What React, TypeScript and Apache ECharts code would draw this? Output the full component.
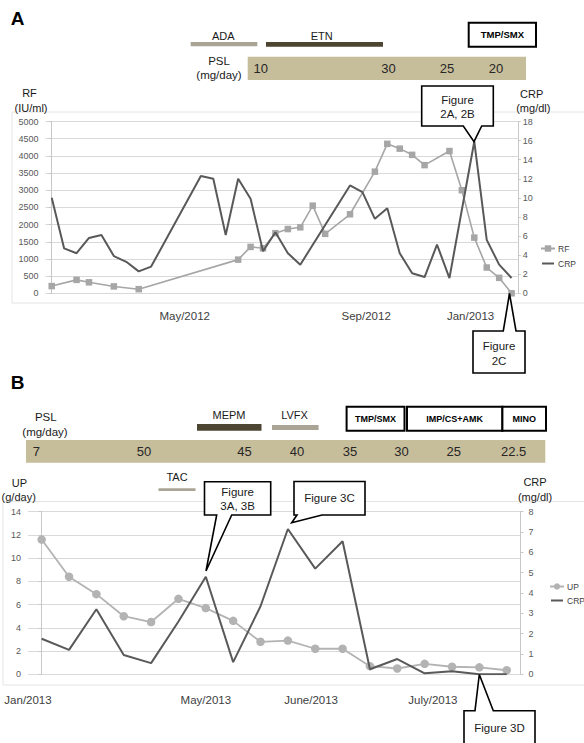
import React, { useEffect, useRef } from 'react';
import * as echarts from 'echarts';

const FONT = "'Liberation Sans', Arial, Helvetica, sans-serif";

// ---------- Panel A data (one entry per measurement date) ----------
const rfA = [210, null, 390, 320, null, 200, null, 120, null, null, null, null, null, null, null,
  980, 1350, 1310, 1750, 1870, 1920, 2550, 1730, null, 2300, null, 3540, 4350, 4210, 4030, 3730,
  null, 4140, 3000, 1620, 750, 450, 0];
const crpA = [10.0, 4.7, 4.2, 5.8, 6.1, 3.9, 3.3, 2.3, 2.8, null, null, null, 12.3, 12.0, 6.1, 12.0,
  9.9, 4.4, 6.4, 4.2, 3.0, null, null, null, 11.3, 10.6, 7.8, 8.9, 4.2, 2.1, 1.7, 5.1, 1.6, null,
  15.9, 5.6, 3.0, 1.6];
const xTickPosA = [10.7, 25.3, 33.7];
const xTickLabelsA = ['May/2012', 'Sep/2012', 'Jan/2013'];
const pslValuesA = ['10', '30', '25', '20'];

// ---------- Panel B data ----------
const upB = [11.6, 8.4, 6.9, 5.0, 4.5, 6.5, 5.7, 4.6, 2.8, 2.9, 2.2, 2.2, 0.7, 0.5, 0.9, 0.65, 0.6, 0.35];
const crpB = [1.75, 1.2, 3.2, 0.95, 0.55, 2.6, 4.8, 0.6, 3.35, 7.15, 5.2, 6.55, 0.25, 0.75, 0.05, 0.15, 0, 0];
const xTickPosB = [-0.5, 6, 9.85, 14.3];
const xTickLabelsB = ['Jan/2013', 'May/2013', 'June/2013', 'July/2013'];
const pslValuesB = ['7', '50', '45', '40', '35', '30', '25', '22.5'];

// ---------- layout ----------
const pslXA = [260.7, 388.5, 447, 496];
const pslXB = [36.4, 144, 244.6, 297, 350, 401.5, 453.8, 513.6];

const TAN = '#c6bd9b';
const DARK_BAR = '#4b4532';
const HATCH = '#a9a496';
const LINE_ICON = 'path://M0,0h0.05v0.05h-0.05z M0,3.8h15v2.4h-15z M0,9.95h0.05v0.05h-0.05z';

const toPairs = (arr: (number | null)[]) =>
  arr.map((v, i) => [i, v]).filter((p) => p[1] !== null);

const labelFor = (pos: number[], labels: string[]) => (v: number) => {
  const k = pos.findIndex((p) => Math.abs(p - v) < 1e-6);
  return k >= 0 ? labels[k] : '';
};

const txt = (x: number, y: number, s: string, size: number, weight = 'normal', fill = '#1a1a1a', align = 'center') => ({
  type: 'text',
  x,
  y,
  z: 50,
  silent: true,
  style: {
    text: s,
    fill,
    font: `${weight} ${size}px ${FONT}`,
    textAlign: align,
    align,
    textVerticalAlign: 'middle',
    verticalAlign: 'middle',
  },
});

const rect = (x: number, y: number, w: number, h: number, style: any, z = 5) => ({
  type: 'rect',
  z,
  silent: true,
  shape: { x, y, width: w, height: h },
  style,
});

const callout = (points: number[][]) => ({
  type: 'polygon',
  z: 40,
  silent: true,
  shape: { points },
  style: { fill: '#ffffff', stroke: '#000000', lineWidth: 1.6, lineJoin: 'miter' },
});

const boxStyle = { fill: '#ffffff', stroke: '#000000', lineWidth: 2 };

const valueAxisLabel = { fontSize: 9, color: '#595959', fontFamily: FONT, formatter: (v: number) => String(v) };

export default function App() {
  const ref = useRef<HTMLDivElement>(null);

  useEffect(() => {
    if (!ref.current) return;
    const chart = echarts.init(ref.current, null, { renderer: 'svg' });

    const graphics: any[] = [
      // frames
      rect(12, 112, 580, 191, { fill: 'none', stroke: '#e4e4e4', lineWidth: 1 }, 0),
      rect(3, 501.5, 590, 183.5, { fill: 'none', stroke: '#e4e4e4', lineWidth: 1 }, 0),

      // ----- Panel A header -----
      txt(17.5, 18.5, 'A', 19, 'bold', '#000'),
      txt(223.3, 36.3, 'ADA', 11),
      rect(190.7, 42, 66.6, 4.3, { fill: HATCH }),
      txt(321.7, 36.3, 'ETN', 11),
      rect(266, 42, 117, 4.7, { fill: DARK_BAR }),
      rect(468.7, 22.7, 67.3, 24, boxStyle),
      txt(502.4, 34.7, 'TMP/SMX', 9.5, 'bold', '#000'),
      txt(219, 61, 'PSL', 11.5),
      txt(219, 75, '(mg/day)', 11.5),
      rect(247.7, 56.7, 278.3, 23.3, { fill: TAN }, 1),
      ...pslValuesA.map((v, i) => txt(pslXA[i], 68.3, v, 13, 'normal', '#262626')),
      txt(29.5, 93.3, 'RF', 11),
      txt(31, 108, '(IU/ml)', 11),
      txt(531.7, 94, 'CRP', 11),
      txt(533.3, 108, '(mg/dl)', 11),

      // callouts A
      callout([[421.7, 86], [493.3, 86], [493.3, 126], [481.7, 126], [474, 141.7], [463.3, 126], [421.7, 126]]),
      txt(457.5, 100, 'Figure', 11.5),
      txt(457.5, 113.5, '2A, 2B', 11.5),
      callout([[473, 331], [503.3, 331], [509.5, 293.5], [516, 331], [525, 331], [525, 373], [473, 373]]),
      txt(499, 346, 'Figure', 11.5),
      txt(499, 361, '2C', 11.5),

      // ----- Panel B header -----
      txt(17.5, 382, 'B', 19, 'bold', '#000'),
      txt(45.8, 417, 'PSL', 11.5),
      txt(45, 431.7, '(mg/day)', 11.5),
      txt(229, 415, 'MEPM', 11),
      rect(197, 424, 64.5, 6.7, { fill: DARK_BAR }),
      txt(294.5, 415, 'LVFX', 11),
      rect(272, 425, 46.6, 5, { fill: HATCH }),
      rect(346.6, 406.7, 57.9, 24, boxStyle),
      txt(375.5, 418.7, 'TMP/SMX', 9, 'bold', '#000'),
      rect(407, 406.7, 95.4, 24, boxStyle),
      txt(454.7, 418.7, 'IMP/CS+AMK', 9, 'bold', '#000'),
      rect(502.4, 406.7, 43.6, 24, boxStyle),
      txt(524.2, 418.7, 'MINO', 9, 'bold', '#000'),
      rect(26, 440, 519.3, 22.7, { fill: TAN }, 1),
      ...pslValuesB.map((v, i) => txt(pslXB[i], 451.7, v, 13, 'normal', '#262626')),
      txt(177, 477.3, 'TAC', 11),
      rect(158.5, 488.3, 37, 2.8, { fill: HATCH }),
      txt(19.5, 482.7, 'UP', 11),
      txt(18.7, 496.7, '(g/day)', 11),
      txt(535, 482.3, 'CRP', 11),
      txt(535, 496.5, '(mg/dl)', 11),

      // callouts B
      callout([[204.5, 481.7], [270.7, 481.7], [270.7, 515], [231.7, 515], [206, 571], [216.7, 515], [204.5, 515]]),
      txt(237.6, 491.7, 'Figure', 11.5),
      txt(237.6, 505.5, '3A, 3B', 11.5),
      callout([[294, 481.5], [365, 481.5], [365, 515], [322, 515], [291.7, 522.7], [297, 515], [294, 515]]),
      txt(329.5, 498, 'Figure 3C', 11.5),
      callout([[464, 710.7], [475, 710.7], [479.3, 674.5], [493.3, 710.7], [535, 710.7], [535, 750], [464, 750]]),
      txt(499.5, 728.3, 'Figure 3D', 11.5),
    ];

    const option: any = {
      animation: false,
      backgroundColor: '#ffffff',
      textStyle: { fontFamily: FONT },
      grid: [
        { left: 45.5, top: 121.5, width: 472.3, height: 171.8 },
        { left: 28, top: 511.7, width: 492.4, height: 162.6 },
      ],
      xAxis: [
        {
          gridIndex: 0, type: 'value', min: -0.5, max: 37.5,
          axisLine: { show: false }, axisTick: { show: false }, splitLine: { show: false },
          axisLabel: {
            customValues: xTickPosA, formatter: labelFor(xTickPosA, xTickLabelsA),
            fontSize: 11.5, color: '#404040', margin: 17, showMinLabel: true, showMaxLabel: true,
          },
        },
        {
          gridIndex: 1, type: 'value', min: -0.5, max: 17.5,
          axisLine: { show: false }, axisTick: { show: false }, splitLine: { show: false },
          axisLabel: {
            customValues: xTickPosB, formatter: labelFor(xTickPosB, xTickLabelsB),
            fontSize: 11.5, color: '#404040', margin: 20, showMinLabel: true, showMaxLabel: true,
          },
        },
      ],
      yAxis: [
        {
          gridIndex: 0, type: 'value', min: 0, max: 5000, interval: 500, position: 'left',
          axisLine: { show: true, lineStyle: { color: '#c8c8c8' } },
          axisTick: { show: true, length: 3, lineStyle: { color: '#c8c8c8' } },
          splitLine: { show: true, lineStyle: { color: '#d9d9d9', width: 1 } },
          axisLabel: { ...valueAxisLabel, margin: 7 },
        },
        {
          gridIndex: 0, type: 'value', min: 0, max: 18, interval: 2, position: 'right',
          axisLine: { show: true, lineStyle: { color: '#c8c8c8' } },
          axisTick: { show: true, length: 3, lineStyle: { color: '#c8c8c8' } },
          splitLine: { show: false },
          axisLabel: { ...valueAxisLabel, margin: 5 },
        },
        {
          gridIndex: 1, type: 'value', min: 0, max: 14, interval: 2, position: 'left',
          axisLine: { show: true, lineStyle: { color: '#c8c8c8' } },
          axisTick: { show: true, length: 3, lineStyle: { color: '#c8c8c8' } },
          splitLine: { show: true, lineStyle: { color: '#d9d9d9', width: 1 } },
          axisLabel: { ...valueAxisLabel, margin: 7 },
        },
        {
          gridIndex: 1, type: 'value', min: 0, max: 8, interval: 1, position: 'right',
          axisLine: { show: true, lineStyle: { color: '#c8c8c8' } },
          axisTick: { show: true, length: 3, lineStyle: { color: '#c8c8c8' } },
          splitLine: { show: false },
          axisLabel: { ...valueAxisLabel, margin: 8 },
        },
      ],
      legend: [
        {
          data: ['RF', { name: 'CRP', icon: LINE_ICON, itemStyle: { color: '#595959' } }],
          orient: 'vertical', left: 535, top: 239,
          itemWidth: 14, itemHeight: 8, itemGap: 6, itemStyle: { borderWidth: 0 },
          textStyle: { fontSize: 8.5, color: '#404040', fontFamily: FONT, padding: [0, 0, 0, -2] },
        },
        {
          data: ['UP', { name: 'CRP ', icon: LINE_ICON, itemStyle: { color: '#595959' } }],
          orient: 'vertical', left: 544, top: 577,
          itemWidth: 14, itemHeight: 8, itemGap: 5, itemStyle: { borderWidth: 0 },
          formatter: (n: string) => n.trim(),
          textStyle: { fontSize: 8.5, color: '#404040', fontFamily: FONT, padding: [0, 0, 0, -2] },
        },
      ],
      series: [
        {
          name: 'RF', type: 'line', xAxisIndex: 0, yAxisIndex: 0, data: toPairs(rfA),
          symbol: 'rect', symbolSize: 6.5, itemStyle: { color: '#a6a6a6' },
          lineStyle: { color: '#a6a6a6', width: 1.6 }, z: 3,
        },
        {
          name: 'CRP', type: 'line', xAxisIndex: 0, yAxisIndex: 1, data: toPairs(crpA),
          symbol: 'none', itemStyle: { color: '#595959' },
          lineStyle: { color: '#595959', width: 2 }, z: 4,
        },
        {
          name: 'UP', type: 'line', xAxisIndex: 1, yAxisIndex: 2, data: toPairs(upB),
          symbol: 'circle', symbolSize: 8.5, itemStyle: { color: '#b3b3b3' },
          lineStyle: { color: '#b3b3b3', width: 1.8 }, z: 3,
        },
        {
          name: 'CRP ', type: 'line', xAxisIndex: 1, yAxisIndex: 3, data: toPairs(crpB),
          symbol: 'none', itemStyle: { color: '#595959' },
          lineStyle: { color: '#595959', width: 2 }, z: 4,
        },
      ],
      graphic: graphics,
    };

    chart.setOption(option);
    return () => chart.dispose();
  }, []);

  return (
    <div
      ref={ref}
      style={{ position: 'fixed', left: 0, top: 0, width: 584, height: 743, background: '#fff' }}
    />
  );
}
